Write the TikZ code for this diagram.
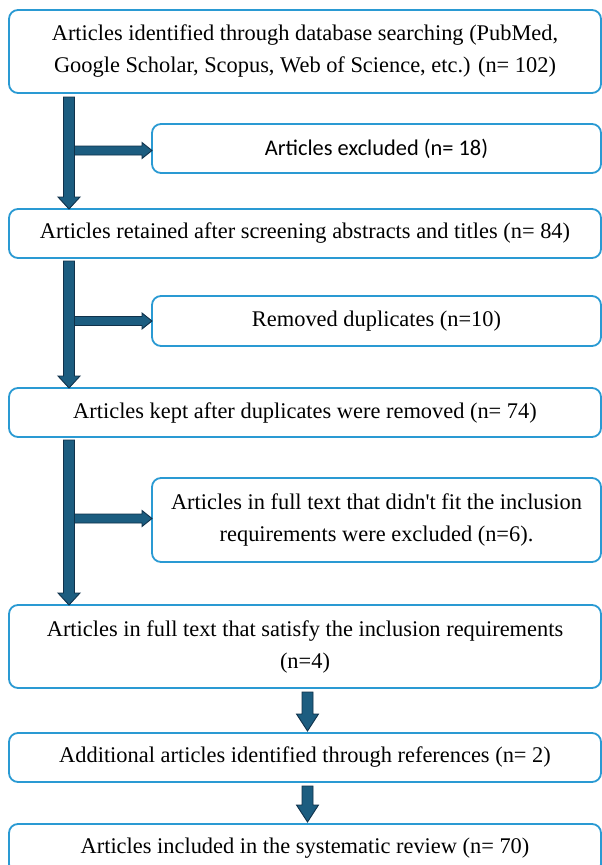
\documentclass[tikz,border=0pt]{standalone}
\usepackage{fontspec}
\setmainfont{Liberation Serif}[Ligatures=TeXOff]
\newfontfamily\calfont{Carlito}
\usetikzlibrary{calc}
\definecolor{boxblue}{HTML}{2A9AD3}
\definecolor{arrfill}{HTML}{1C5D80}
\definecolor{arrline}{HTML}{10314A}
% vertical block arrow: #1 top coordinate, #2 tip coordinate, #3 head length
\newcommand\vblock[3]{%
  \filldraw[arr] ($(#1)+(-5.5,0)$) -- ($(#1)+(5.5,0)$) -- ($(#2)+(5.5,-#3)$) -- ($(#2)+(11,-#3)$) -- (#2) -- ($(#2)+(-11,-#3)$) -- ($(#2)+(-5.5,-#3)$) -- cycle;}
% horizontal block arrow: #1 start coordinate, #2 tip coordinate
\newcommand\hblock[2]{%
  \filldraw[arr] ($(#1)+(0,-4.5)$) -- ($(#2)+(-10,-4.5)$) -- ($(#2)+(-10,-8)$) -- (#2) -- ($(#2)+(-10,8)$) -- ($(#2)+(-10,4.5)$) -- ($(#1)+(0,4.5)$) -- cycle;}
\begin{document}
\begin{tikzpicture}[x=1pt,y=-1pt,
  box/.style={draw=boxblue, line width=1.8pt, rounded corners=9pt, fill=white,
    align=center, inner sep=0pt, outer sep=0pt, text=black,
    font=\fontsize{22.4}{32}\selectfont},
  wide/.style={box, minimum width=592pt},
  narrow/.style={box, minimum width=449pt},
  arr/.style={fill=arrfill, draw=arrline, line width=0.9pt, line join=miter}]
\path[use as bounding box] (0,0) rectangle (602,865);
\clip (0,0) rectangle (602,865);
\fill[white] (0,0) rectangle (602,865);

\node[wide, minimum height=83pt] (b1) at (305,51.5)
  {Articles identified through database searching (PubMed,\\Google Scholar, Scopus, Web of Science, etc.) (n= 102)};
\node[narrow, minimum height=49pt] (b2) at (376.5,148.5)
  {\calfont Articles excluded (n= 18)};
\node[wide, minimum height=49pt] (b3) at (305,233.5)
  {Articles retained after screening abstracts and titles (n= 84)};
\node[narrow, minimum height=50pt] (b4) at (376.5,321)
  {Removed duplicates (n=10)};
\node[wide, minimum height=49pt] (b5) at (305,412.5)
  {Articles kept after duplicates were removed (n= 74)};
\node[narrow, minimum height=84pt] (b6) at (376.5,520)
  {Articles in full text that didn't fit the inclusion\\requirements were excluded (n=6).};
\node[wide, minimum height=83pt] (b7) at (305,646.5)
  {Articles in full text that satisfy the inclusion requirements\\(n=4)};
\node[wide, minimum height=49pt] (b8) at (305,757.5)
  {Additional articles identified through references (n= 2)};
\node[wide, minimum height=49pt] (b9) at (305,848.5)
  {Articles included in the systematic review (n= 70)};

% arrow 1
\coordinate (a1t) at ($(b1.south west)+(60,4)$);
\coordinate (a1b) at ($(b3.north west)+(60,0)$);
\coordinate (a1m) at ($(b2.west -| a1t)+(5.5,2)$);
\coordinate (a1e) at ($(b2.west)+(0,2)$);
\hblock{a1m}{a1e}
\vblock{a1t}{a1b}{12}
% arrow 2
\coordinate (a2t) at ($(b3.south west)+(60,3)$);
\coordinate (a2b) at ($(b5.north west)+(60,0)$);
\coordinate (a2m) at ($(b4.west -| a2t)+(5.5,0)$);
\hblock{a2m}{b4.west}
\vblock{a2t}{a2b}{12}
% arrow 3
\coordinate (a3t) at ($(b5.south west)+(60,3)$);
\coordinate (a3b) at ($(b7.north west)+(60,0)$);
\coordinate (a3m) at ($(b6.west -| a3t)+(5.5,-1.5)$);
\coordinate (a3e) at ($(b6.west)+(0,-1.5)$);
\hblock{a3m}{a3e}
\vblock{a3t}{a3b}{12}
% arrow 4
\coordinate (a4t) at ($(b7.south)+(2.5,4)$);
\coordinate (a4b) at ($(b8.north)+(2.5,-2)$);
\vblock{a4t}{a4b}{17}
% arrow 5
\coordinate (a5t) at ($(b8.south)+(2.5,4)$);
\coordinate (a5b) at ($(b9.north)+(2.5,-2)$);
\vblock{a5t}{a5b}{17}
\end{tikzpicture}
\end{document}
